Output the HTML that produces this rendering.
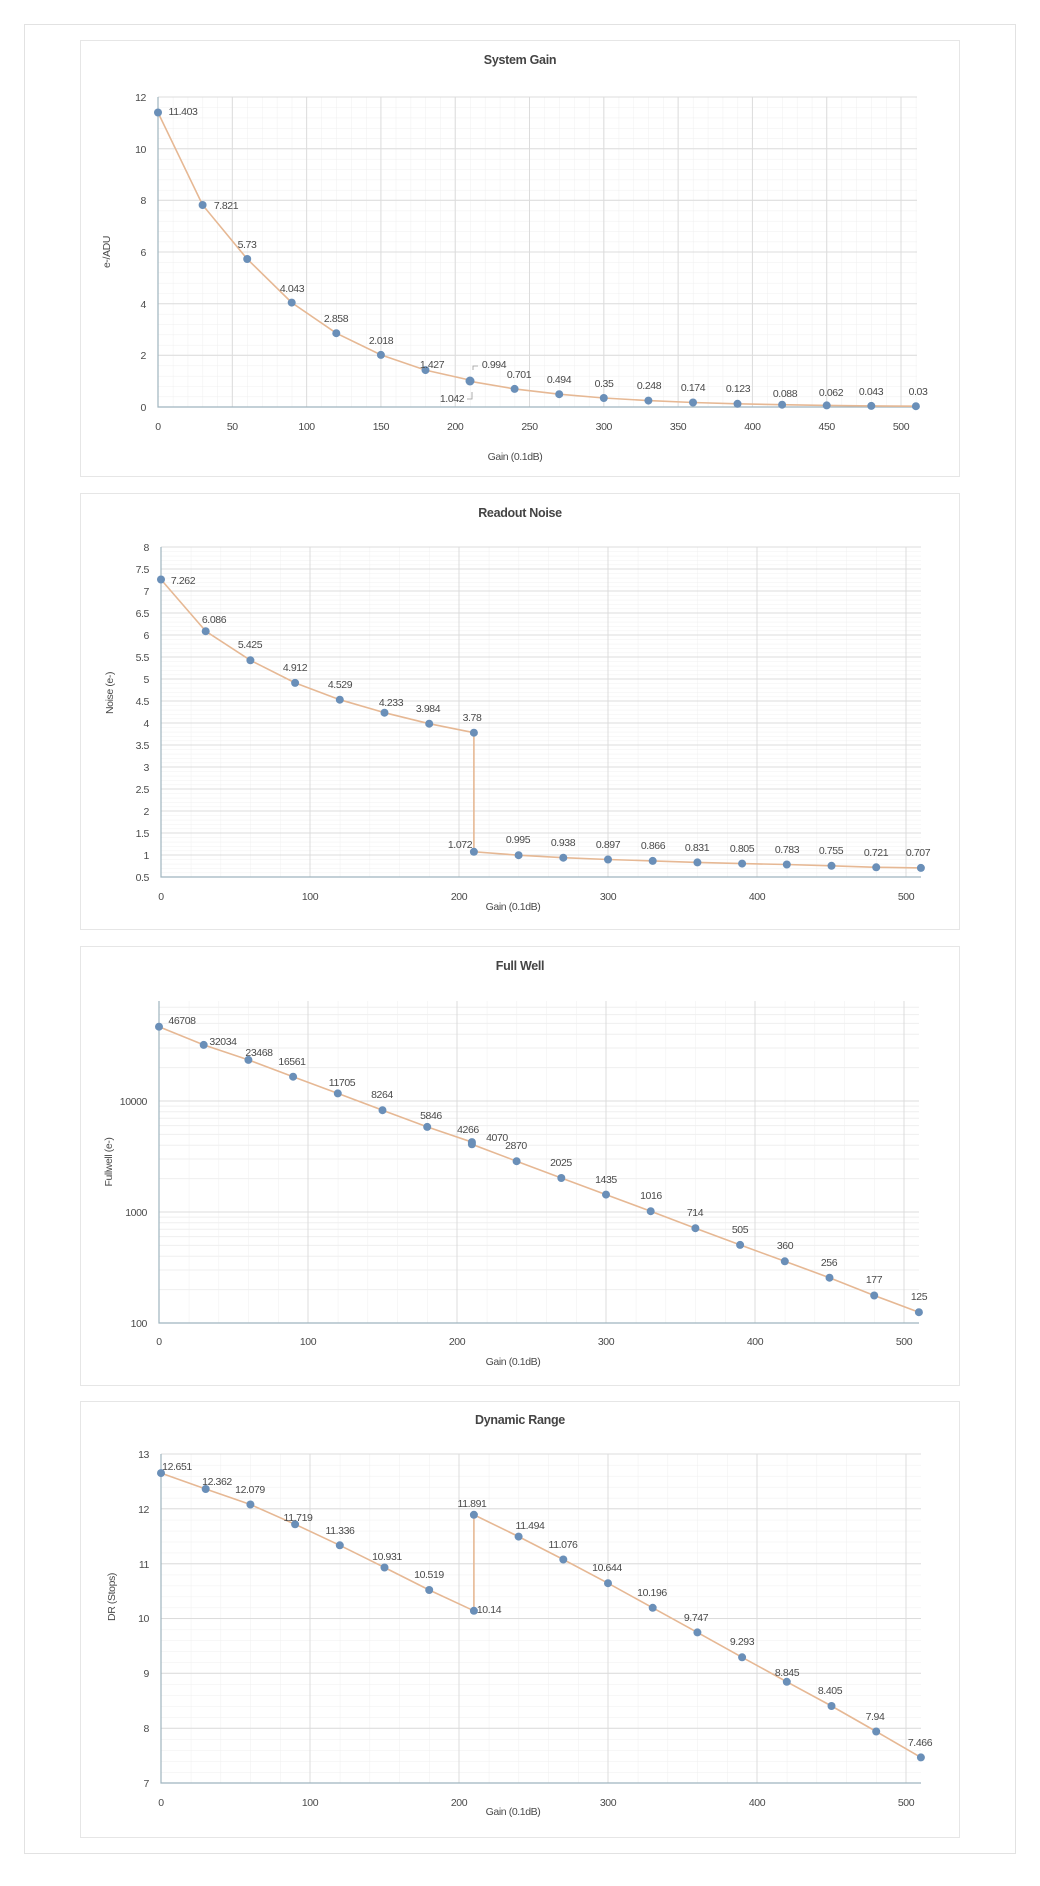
<!DOCTYPE html>
<html><head><meta charset="utf-8"><style>
html,body{margin:0;padding:0;background:#fff}
svg text{font-family:"Liberation Sans Narrow","Liberation Sans",sans-serif;fill:#4a4a4a;font-size:10.5px;letter-spacing:-0.4px}
.t{font-weight:bold;font-size:12.5px;fill:#444;letter-spacing:-0.3px}
.l{text-anchor:middle}
.yl{text-anchor:end}
.mj{stroke:#dcdcdc;stroke-width:1}
.ax{stroke:#9fb5bf;stroke-width:1.2;fill:none}
.ln{fill:none;stroke:#e6b894;stroke-width:1.6}
circle{fill:#6a8fb8}
</style></head><body>
<svg width="1040" height="1881" viewBox="0 0 1040 1881" xmlns="http://www.w3.org/2000/svg">
<defs>
<pattern id="p1" x="158" y="97" width="14.86" height="10.33" patternUnits="userSpaceOnUse"><path d="M0 0V10.33M0 0H14.86" stroke="#efefef" fill="none"/></pattern>
<pattern id="p2" x="161" y="547" width="29.8" height="4.4" patternUnits="userSpaceOnUse"><path d="M0 0V4.4M0 0H29.8" stroke="#f0f0f0" fill="none"/></pattern>
<pattern id="p3" x="159" y="1001" width="29.8" height="400" patternUnits="userSpaceOnUse"><path d="M0 0V400" stroke="#efefef" fill="none"/></pattern>
<pattern id="p4" x="161" y="1454" width="29.8" height="10.97" patternUnits="userSpaceOnUse"><path d="M0 0V10.97M0 0H29.8" stroke="#efefef" fill="none"/></pattern>
</defs>
<rect x="24.5" y="24.5" width="991" height="1829" fill="#fff" stroke="#e2e2e2"/>
<rect x="80.5" y="40.5" width="879" height="436" fill="#fff" stroke="#e6e6e6"/>
<rect x="80.5" y="493.5" width="879" height="436" fill="#fff" stroke="#e6e6e6"/>
<rect x="80.5" y="946.5" width="879" height="439" fill="#fff" stroke="#e6e6e6"/>
<rect x="80.5" y="1401.5" width="879" height="436" fill="#fff" stroke="#e6e6e6"/>

<!-- Chart 1 -->
<text class="t l" x="520" y="64">System Gain</text>
<rect x="158" y="97" width="759" height="310" fill="url(#p1)"/>
<g class="mj">
<line x1="158" y1="97" x2="917" y2="97"/><line x1="158" y1="148.7" x2="917" y2="148.7"/><line x1="158" y1="200.3" x2="917" y2="200.3"/><line x1="158" y1="252" x2="917" y2="252"/><line x1="158" y1="303.7" x2="917" y2="303.7"/><line x1="158" y1="355.3" x2="917" y2="355.3"/>
<line x1="232.3" y1="97" x2="232.3" y2="407"/><line x1="306.6" y1="97" x2="306.6" y2="407"/><line x1="380.9" y1="97" x2="380.9" y2="407"/><line x1="455.2" y1="97" x2="455.2" y2="407"/><line x1="529.5" y1="97" x2="529.5" y2="407"/><line x1="603.8" y1="97" x2="603.8" y2="407"/><line x1="678.1" y1="97" x2="678.1" y2="407"/><line x1="752.4" y1="97" x2="752.4" y2="407"/><line x1="826.7" y1="97" x2="826.7" y2="407"/><line x1="901" y1="97" x2="901" y2="407"/>
</g>
<path class="ax" d="M158 97V407H917"/>
<g class="yl"><text x="146" y="101">12</text><text x="146" y="153">10</text><text x="146" y="204">8</text><text x="146" y="256">6</text><text x="146" y="308">4</text><text x="146" y="359">2</text><text x="146" y="411">0</text></g>
<g class="l"><text x="158" y="430">0</text><text x="232.3" y="430">50</text><text x="306.6" y="430">100</text><text x="380.9" y="430">150</text><text x="455.2" y="430">200</text><text x="529.5" y="430">250</text><text x="603.8" y="430">300</text><text x="678.1" y="430">350</text><text x="752.4" y="430">400</text><text x="826.7" y="430">450</text><text x="901" y="430">500</text></g>
<text class="l" x="515" y="460">Gain (0.1dB)</text>
<text class="l" transform="translate(110 252) rotate(-90)">e-/ADU</text>
<polyline class="ln" points="158,112.5 202.6,205 247.2,259 291.7,302.6 336.3,333.2 380.9,354.9 425.5,370.1 470,380.1 470,381.3 514.6,388.9 559.2,394.2 603.8,398 648.4,400.6 693,402.5 737.5,403.8 782.1,404.7 826.7,405.4 871.3,405.9 915.9,406.2"/>
<g><circle cx="158" cy="112.5" r="4"/><circle cx="202.6" cy="205" r="4"/><circle cx="247.2" cy="259" r="4"/><circle cx="291.7" cy="302.6" r="4"/><circle cx="336.3" cy="333.2" r="4"/><circle cx="380.9" cy="354.9" r="4"/><circle cx="425.5" cy="370.1" r="4"/><circle cx="470" cy="381" r="4.5"/><circle cx="514.6" cy="388.9" r="4"/><circle cx="559.2" cy="394.2" r="4"/><circle cx="603.8" cy="398" r="4"/><circle cx="648.4" cy="400.6" r="4"/><circle cx="693" cy="402.5" r="4"/><circle cx="737.5" cy="403.8" r="4"/><circle cx="782.1" cy="404.7" r="4"/><circle cx="826.7" cy="405.4" r="4"/><circle cx="871.3" cy="405.9" r="4"/><circle cx="915.9" cy="406.2" r="4"/></g>
<path d="M473 370V366H478M467 399H472V392" stroke="#999" fill="none" stroke-width="0.8"/>
<g class="l"><text x="183" y="115">11.403</text><text x="226" y="209">7.821</text><text x="247" y="248">5.73</text><text x="292" y="292">4.043</text><text x="336" y="322">2.858</text><text x="381" y="344">2.018</text><text x="432" y="368">1.427</text><text x="452" y="402">1.042</text><text x="494" y="368">0.994</text><text x="519" y="378">0.701</text><text x="559" y="383">0.494</text><text x="604" y="387">0.35</text><text x="649" y="389">0.248</text><text x="693" y="391">0.174</text><text x="738" y="392">0.123</text><text x="785" y="397">0.088</text><text x="831" y="396">0.062</text><text x="871" y="395">0.043</text><text x="918" y="395">0.03</text></g>

<!-- Chart 2 -->
<text class="t l" x="520" y="517">Readout Noise</text>
<rect x="161" y="547" width="760" height="330" fill="url(#p2)"/>
<g class="mj">
<line x1="161" y1="547" x2="921" y2="547"/><line x1="161" y1="569" x2="921" y2="569"/><line x1="161" y1="591" x2="921" y2="591"/><line x1="161" y1="613" x2="921" y2="613"/><line x1="161" y1="635" x2="921" y2="635"/><line x1="161" y1="657" x2="921" y2="657"/><line x1="161" y1="679" x2="921" y2="679"/><line x1="161" y1="701" x2="921" y2="701"/><line x1="161" y1="723" x2="921" y2="723"/><line x1="161" y1="745" x2="921" y2="745"/><line x1="161" y1="767" x2="921" y2="767"/><line x1="161" y1="789" x2="921" y2="789"/><line x1="161" y1="811" x2="921" y2="811"/><line x1="161" y1="833" x2="921" y2="833"/><line x1="161" y1="855" x2="921" y2="855"/>
<line x1="310" y1="547" x2="310" y2="877"/><line x1="459" y1="547" x2="459" y2="877"/><line x1="608" y1="547" x2="608" y2="877"/><line x1="757" y1="547" x2="757" y2="877"/><line x1="906" y1="547" x2="906" y2="877"/>
</g>
<path class="ax" d="M161 547V877H921"/>
<g class="yl"><text x="149" y="551">8</text><text x="149" y="573">7.5</text><text x="149" y="595">7</text><text x="149" y="617">6.5</text><text x="149" y="639">6</text><text x="149" y="661">5.5</text><text x="149" y="683">5</text><text x="149" y="705">4.5</text><text x="149" y="727">4</text><text x="149" y="749">3.5</text><text x="149" y="771">3</text><text x="149" y="793">2.5</text><text x="149" y="815">2</text><text x="149" y="837">1.5</text><text x="149" y="859">1</text><text x="149" y="881">0.5</text></g>
<g class="l"><text x="161" y="900">0</text><text x="310" y="900">100</text><text x="459" y="900">200</text><text x="608" y="900">300</text><text x="757" y="900">400</text><text x="906" y="900">500</text></g>
<text class="l" x="513" y="910">Gain (0.1dB)</text>
<text class="l" transform="translate(113 693) rotate(-90)">Noise (e-)</text>
<polyline class="ln" points="161,579.5 205.7,631.2 250.4,660.3 295.1,682.9 339.8,699.7 384.5,712.7 429.2,723.7 473.9,732.7 473.9,851.8 518.6,855.2 563.3,857.7 608,859.5 652.7,860.9 697.4,862.4 742.1,863.6 786.8,864.5 831.5,865.8 876.2,867.3 920.9,867.9"/>
<g><circle cx="161" cy="579.5" r="4"/><circle cx="205.7" cy="631.2" r="4"/><circle cx="250.4" cy="660.3" r="4"/><circle cx="295.1" cy="682.9" r="4"/><circle cx="339.8" cy="699.7" r="4"/><circle cx="384.5" cy="712.7" r="4"/><circle cx="429.2" cy="723.7" r="4"/><circle cx="473.9" cy="732.7" r="4"/><circle cx="473.9" cy="851.8" r="4"/><circle cx="518.6" cy="855.2" r="4"/><circle cx="563.3" cy="857.7" r="4"/><circle cx="608" cy="859.5" r="4"/><circle cx="652.7" cy="860.9" r="4"/><circle cx="697.4" cy="862.4" r="4"/><circle cx="742.1" cy="863.6" r="4"/><circle cx="786.8" cy="864.5" r="4"/><circle cx="831.5" cy="865.8" r="4"/><circle cx="876.2" cy="867.3" r="4"/><circle cx="920.9" cy="867.9" r="4"/></g>
<g class="l"><text x="183" y="584">7.262</text><text x="214" y="623">6.086</text><text x="250" y="648">5.425</text><text x="295" y="671">4.912</text><text x="340" y="688">4.529</text><text x="391" y="706">4.233</text><text x="428" y="712">3.984</text><text x="472" y="721">3.78</text><text x="460" y="848">1.072</text><text x="518" y="843">0.995</text><text x="563" y="846">0.938</text><text x="608" y="848">0.897</text><text x="653" y="849">0.866</text><text x="697" y="851">0.831</text><text x="742" y="852">0.805</text><text x="787" y="853">0.783</text><text x="831" y="854">0.755</text><text x="876" y="856">0.721</text><text x="918" y="856">0.707</text></g>

<!-- Chart 3 -->
<text class="t l" x="520" y="970">Full Well</text>
<rect x="159" y="1001" width="760" height="322" fill="url(#p3)"/>
<g stroke="#efefef">
<line x1="159" y1="1289.6" x2="919" y2="1289.6"/><line x1="159" y1="1270" x2="919" y2="1270"/><line x1="159" y1="1256.2" x2="919" y2="1256.2"/><line x1="159" y1="1245.4" x2="919" y2="1245.4"/><line x1="159" y1="1236.6" x2="919" y2="1236.6"/><line x1="159" y1="1229.2" x2="919" y2="1229.2"/><line x1="159" y1="1222.8" x2="919" y2="1222.8"/><line x1="159" y1="1217.1" x2="919" y2="1217.1"/>
<line x1="159" y1="1178.6" x2="919" y2="1178.6"/><line x1="159" y1="1159" x2="919" y2="1159"/><line x1="159" y1="1145.2" x2="919" y2="1145.2"/><line x1="159" y1="1134.4" x2="919" y2="1134.4"/><line x1="159" y1="1125.6" x2="919" y2="1125.6"/><line x1="159" y1="1118.2" x2="919" y2="1118.2"/><line x1="159" y1="1111.8" x2="919" y2="1111.8"/><line x1="159" y1="1106.1" x2="919" y2="1106.1"/>
<line x1="159" y1="1067.6" x2="919" y2="1067.6"/><line x1="159" y1="1048" x2="919" y2="1048"/><line x1="159" y1="1034.2" x2="919" y2="1034.2"/><line x1="159" y1="1023.4" x2="919" y2="1023.4"/><line x1="159" y1="1014.6" x2="919" y2="1014.6"/><line x1="159" y1="1007.2" x2="919" y2="1007.2"/>
</g>
<g class="mj">
<line x1="159" y1="1101" x2="919" y2="1101"/><line x1="159" y1="1212" x2="919" y2="1212"/>
<line x1="308" y1="1001" x2="308" y2="1323"/><line x1="457" y1="1001" x2="457" y2="1323"/><line x1="606" y1="1001" x2="606" y2="1323"/><line x1="755" y1="1001" x2="755" y2="1323"/><line x1="904" y1="1001" x2="904" y2="1323"/>
</g>
<path class="ax" d="M159 1001V1323H919"/>
<g class="yl"><text x="147" y="1105">10000</text><text x="147" y="1216">1000</text><text x="147" y="1327">100</text></g>
<g class="l"><text x="159" y="1345">0</text><text x="308" y="1345">100</text><text x="457" y="1345">200</text><text x="606" y="1345">300</text><text x="755" y="1345">400</text><text x="904" y="1345">500</text></g>
<text class="l" x="513" y="1365">Gain (0.1dB)</text>
<text class="l" transform="translate(112 1162) rotate(-90)">Fullwell (e-)</text>
<polyline class="ln" points="159,1026.7 203.7,1044.9 248.4,1059.9 293.1,1076.7 337.8,1093.4 382.5,1110.2 427.2,1126.9 471.9,1142.1 471.9,1144.3 516.6,1161.2 561.3,1178 606,1194.6 650.7,1211.2 695.4,1228.2 740.1,1244.9 784.8,1261.3 829.5,1277.7 874.2,1295.5 918.9,1312.2"/>
<g><circle cx="159" cy="1026.7" r="4"/><circle cx="203.7" cy="1044.9" r="4"/><circle cx="248.4" cy="1059.9" r="4"/><circle cx="293.1" cy="1076.7" r="4"/><circle cx="337.8" cy="1093.4" r="4"/><circle cx="382.5" cy="1110.2" r="4"/><circle cx="427.2" cy="1126.9" r="4"/><circle cx="471.9" cy="1142.1" r="4"/><circle cx="471.9" cy="1144.3" r="4"/><circle cx="516.6" cy="1161.2" r="4"/><circle cx="561.3" cy="1178" r="4"/><circle cx="606" cy="1194.6" r="4"/><circle cx="650.7" cy="1211.2" r="4"/><circle cx="695.4" cy="1228.2" r="4"/><circle cx="740.1" cy="1244.9" r="4"/><circle cx="784.8" cy="1261.3" r="4"/><circle cx="829.5" cy="1277.7" r="4"/><circle cx="874.2" cy="1295.5" r="4"/><circle cx="918.9" cy="1312.2" r="4"/></g>
<g class="l"><text x="182" y="1024">46708</text><text x="223" y="1045">32034</text><text x="259" y="1056">23468</text><text x="292" y="1065">16561</text><text x="342" y="1086">11705</text><text x="382" y="1098">8264</text><text x="431" y="1119">5846</text><text x="468" y="1133">4266</text><text x="497" y="1141">4070</text><text x="516" y="1149">2870</text><text x="561" y="1166">2025</text><text x="606" y="1183">1435</text><text x="651" y="1199">1016</text><text x="695" y="1216">714</text><text x="740" y="1233">505</text><text x="785" y="1249">360</text><text x="829" y="1266">256</text><text x="874" y="1283">177</text><text x="919" y="1300">125</text></g>

<!-- Chart 4 -->
<text class="t l" x="520" y="1424">Dynamic Range</text>
<rect x="161" y="1454" width="760" height="329" fill="url(#p4)"/>
<g class="mj">
<line x1="161" y1="1454" x2="921" y2="1454"/><line x1="161" y1="1508.8" x2="921" y2="1508.8"/><line x1="161" y1="1563.7" x2="921" y2="1563.7"/><line x1="161" y1="1618.5" x2="921" y2="1618.5"/><line x1="161" y1="1673.3" x2="921" y2="1673.3"/><line x1="161" y1="1728.2" x2="921" y2="1728.2"/>
<line x1="310" y1="1454" x2="310" y2="1783"/><line x1="459" y1="1454" x2="459" y2="1783"/><line x1="608" y1="1454" x2="608" y2="1783"/><line x1="757" y1="1454" x2="757" y2="1783"/><line x1="906" y1="1454" x2="906" y2="1783"/>
</g>
<path class="ax" d="M161 1454V1783H921"/>
<g class="yl"><text x="149" y="1458">13</text><text x="149" y="1513">12</text><text x="149" y="1568">11</text><text x="149" y="1622">10</text><text x="149" y="1677">9</text><text x="149" y="1732">8</text><text x="149" y="1787">7</text></g>
<g class="l"><text x="161" y="1806">0</text><text x="310" y="1806">100</text><text x="459" y="1806">200</text><text x="608" y="1806">300</text><text x="757" y="1806">400</text><text x="906" y="1806">500</text></g>
<text class="l" x="513" y="1815">Gain (0.1dB)</text>
<text class="l" transform="translate(115 1597) rotate(-90)">DR (Stops)</text>
<polyline class="ln" points="161,1473.1 205.7,1489 250.4,1504.5 295.1,1524.3 339.8,1545.3 384.5,1567.5 429.2,1590 473.9,1610.8 473.9,1514.8 518.6,1536.6 563.3,1559.5 608,1583.2 652.7,1607.8 697.4,1632.4 742.1,1657.3 786.8,1681.8 831.5,1706 876.2,1731.5 920.9,1757.4"/>
<g><circle cx="161" cy="1473.1" r="4"/><circle cx="205.7" cy="1489" r="4"/><circle cx="250.4" cy="1504.5" r="4"/><circle cx="295.1" cy="1524.3" r="4"/><circle cx="339.8" cy="1545.3" r="4"/><circle cx="384.5" cy="1567.5" r="4"/><circle cx="429.2" cy="1590" r="4"/><circle cx="473.9" cy="1610.8" r="4"/><circle cx="473.9" cy="1514.8" r="4"/><circle cx="518.6" cy="1536.6" r="4"/><circle cx="563.3" cy="1559.5" r="4"/><circle cx="608" cy="1583.2" r="4"/><circle cx="652.7" cy="1607.8" r="4"/><circle cx="697.4" cy="1632.4" r="4"/><circle cx="742.1" cy="1657.3" r="4"/><circle cx="786.8" cy="1681.8" r="4"/><circle cx="831.5" cy="1706" r="4"/><circle cx="876.2" cy="1731.5" r="4"/><circle cx="920.9" cy="1757.4" r="4"/></g>
<g class="l"><text x="177" y="1470">12.651</text><text x="217" y="1485">12.362</text><text x="250" y="1493">12.079</text><text x="298" y="1521">11.719</text><text x="340" y="1534">11.336</text><text x="387" y="1560">10.931</text><text x="429" y="1578">10.519</text><text x="489" y="1613">10.14</text><text x="472" y="1507">11.891</text><text x="530" y="1529">11.494</text><text x="563" y="1548">11.076</text><text x="607" y="1571">10.644</text><text x="652" y="1596">10.196</text><text x="696" y="1621">9.747</text><text x="742" y="1645">9.293</text><text x="787" y="1676">8.845</text><text x="830" y="1694">8.405</text><text x="875" y="1720">7.94</text><text x="920" y="1746">7.466</text></g>
</svg>
</body></html>
